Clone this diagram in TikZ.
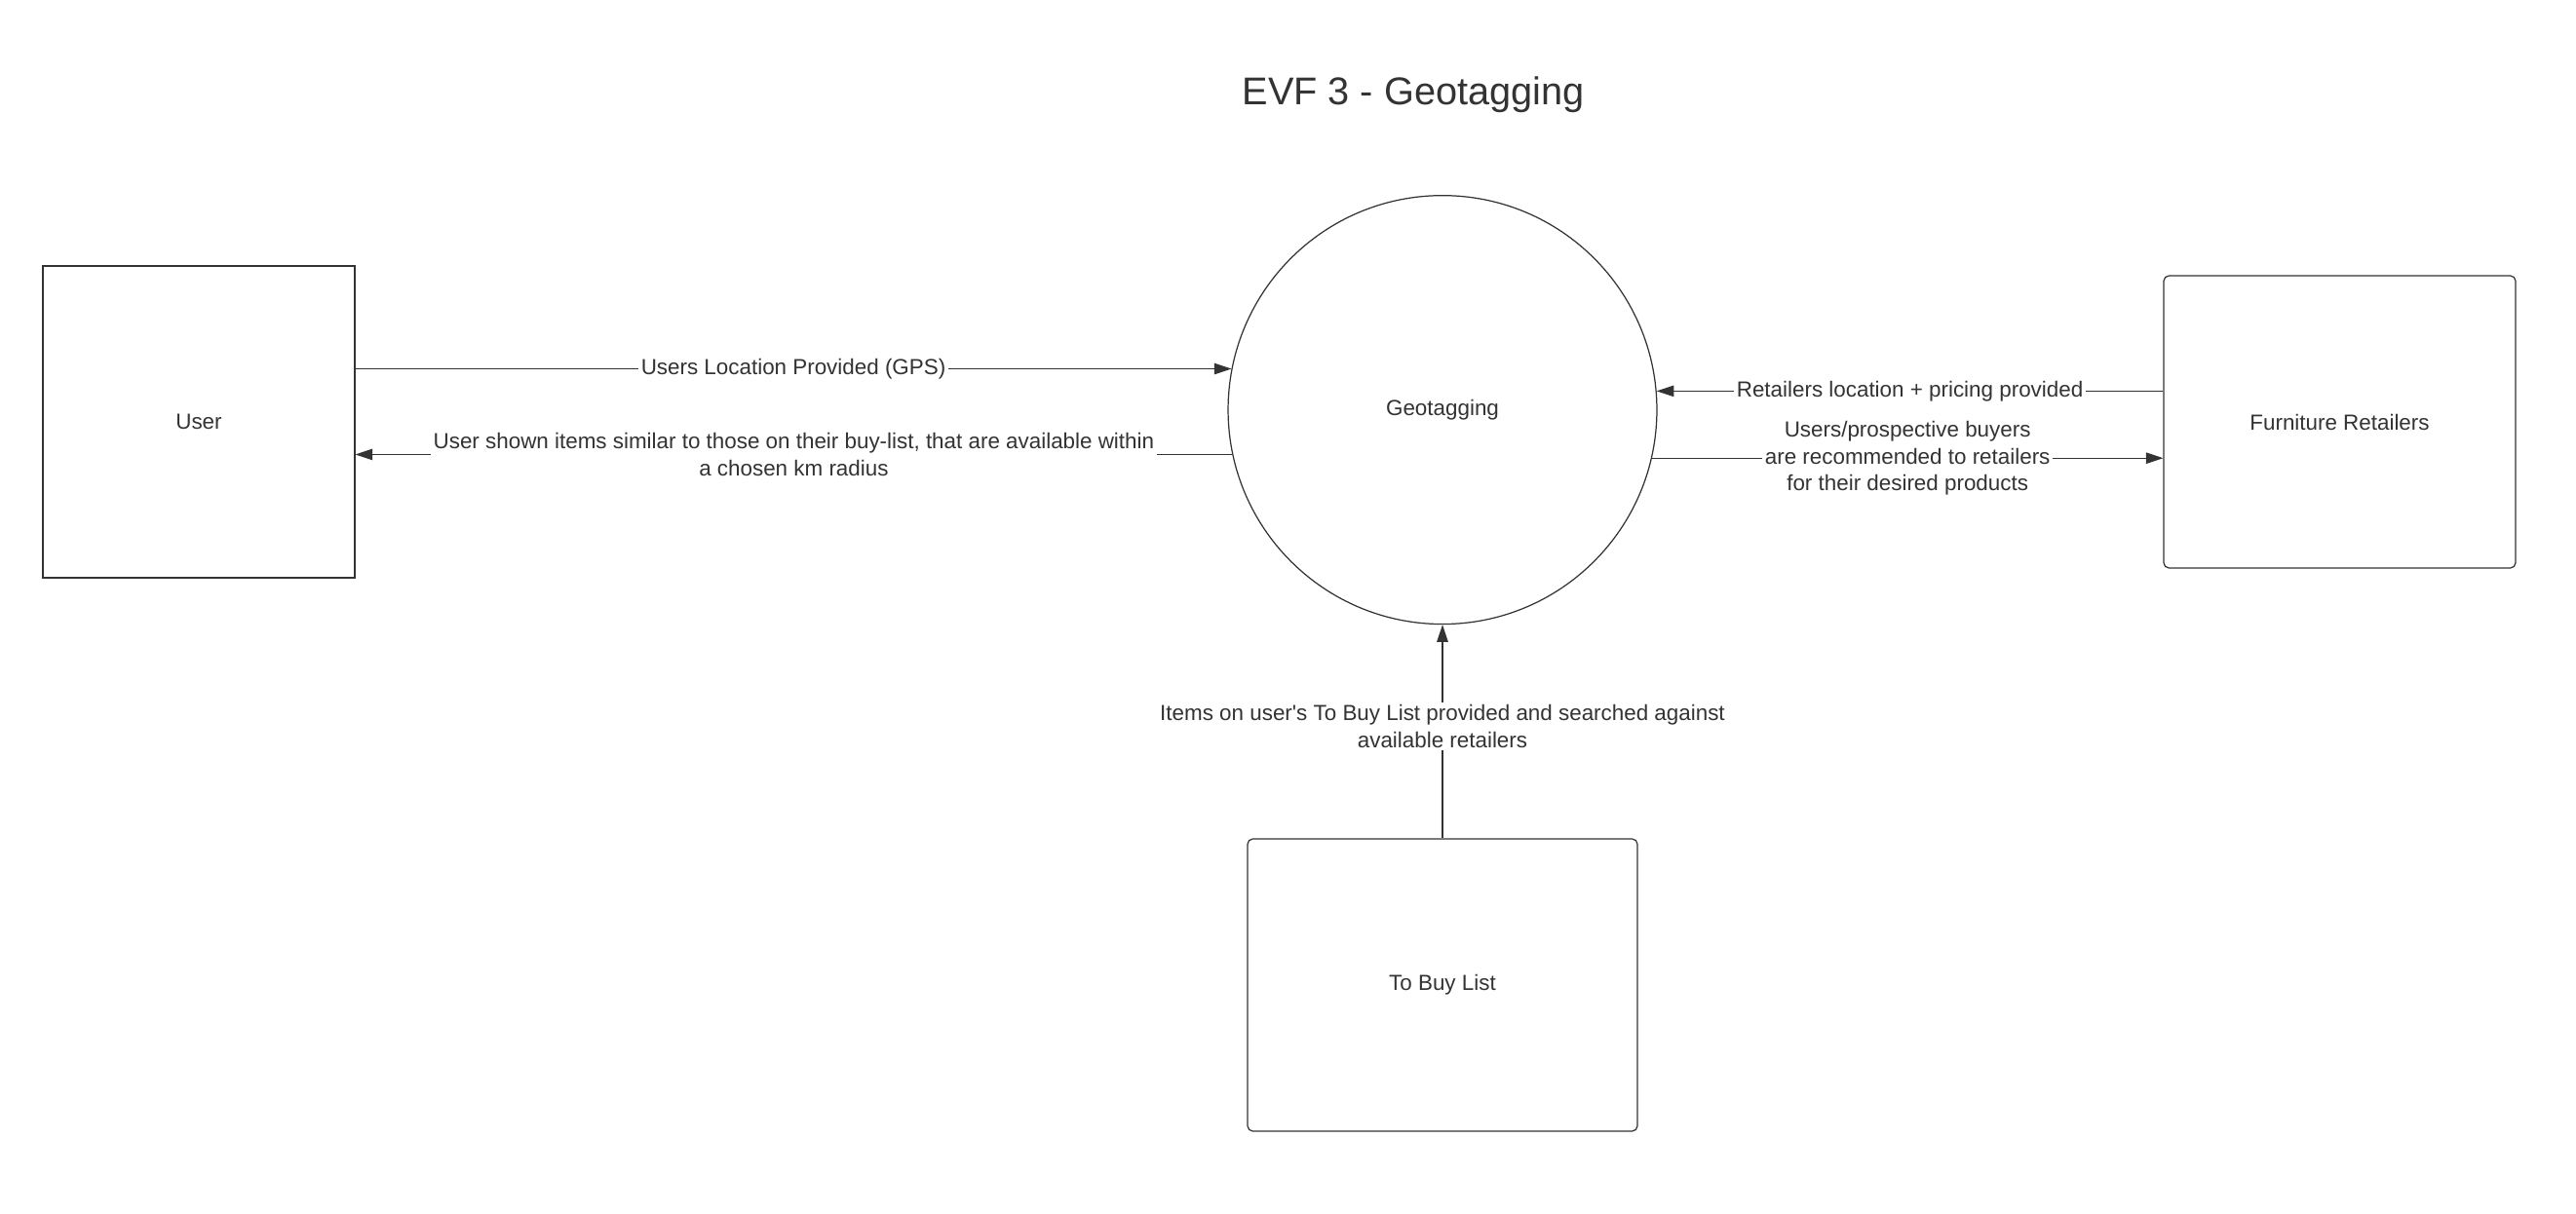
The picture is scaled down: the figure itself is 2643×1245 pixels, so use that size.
\documentclass[tikz,border=0pt]{standalone}
\usepackage{fontspec}
\setmainfont{Liberation Sans}
\usetikzlibrary{arrows.meta,positioning}
\usepackage{xcolor}
\definecolor{ink}{HTML}{333333}

\begin{document}
\begin{tikzpicture}[x=0.02cm,y=-0.02cm,>={Triangle[length=10pt,width=6.5pt]},
	every node/.style={text=ink,font=\fontsize{12.75}{15.5}\selectfont},
	box/.style={draw=ink,line width=0.7pt},
	flow/.style={->,draw=ink,line width=0.7pt},
	lbl/.style={fill=white,align=center,inner sep=1.5pt}]
	\useasboundingbox (0,0) rectangle (2643,1245);

	\node[font=\fontsize{22.6}{27}\selectfont] (title) at (1450,97) {EVF 3 - Geotagging};

	% entities and the process
	\node[box,minimum width=6.4cm,minimum height=6.4cm] (user) at (204,433) {User};
	\node[box,circle,minimum size=8.8cm] (geo) at (1480,420.6) {Geotagging};
	\node[box,rounded corners=3pt,minimum width=7.22cm,minimum height=6cm] (retail) at (2400.5,433) {Furniture Retailers};
	\node[box,rounded corners=3pt,minimum width=8cm,minimum height=6cm] (tobuy) at (1480,1011) {To Buy List};

	% data flows
	\draw[flow] (user.east |- geo.169.4) -- node[lbl]{Users Location Provided (GPS)} (geo.169.4);
	\draw[flow] (geo.192.6) -- node[lbl]{User shown items similar to those on their buy-list, that are available within\\a chosen km radius} (user.east |- geo.192.6);
	\draw[flow] (retail.west |- geo.5.1) -- node[lbl]{Retailers location + pricing provided} (geo.5.1);
	\draw[flow] (geo.-13) -- node[lbl]{Users/prospective buyers\\are recommended to retailers\\for their desired products} (retail.west |- geo.-13);
	\draw[flow] (tobuy.north) -- node[lbl,yshift=3pt]{Items on user\textquotesingle s To Buy List provided and searched against\\available retailers} (geo.south);
\end{tikzpicture}
\end{document}
